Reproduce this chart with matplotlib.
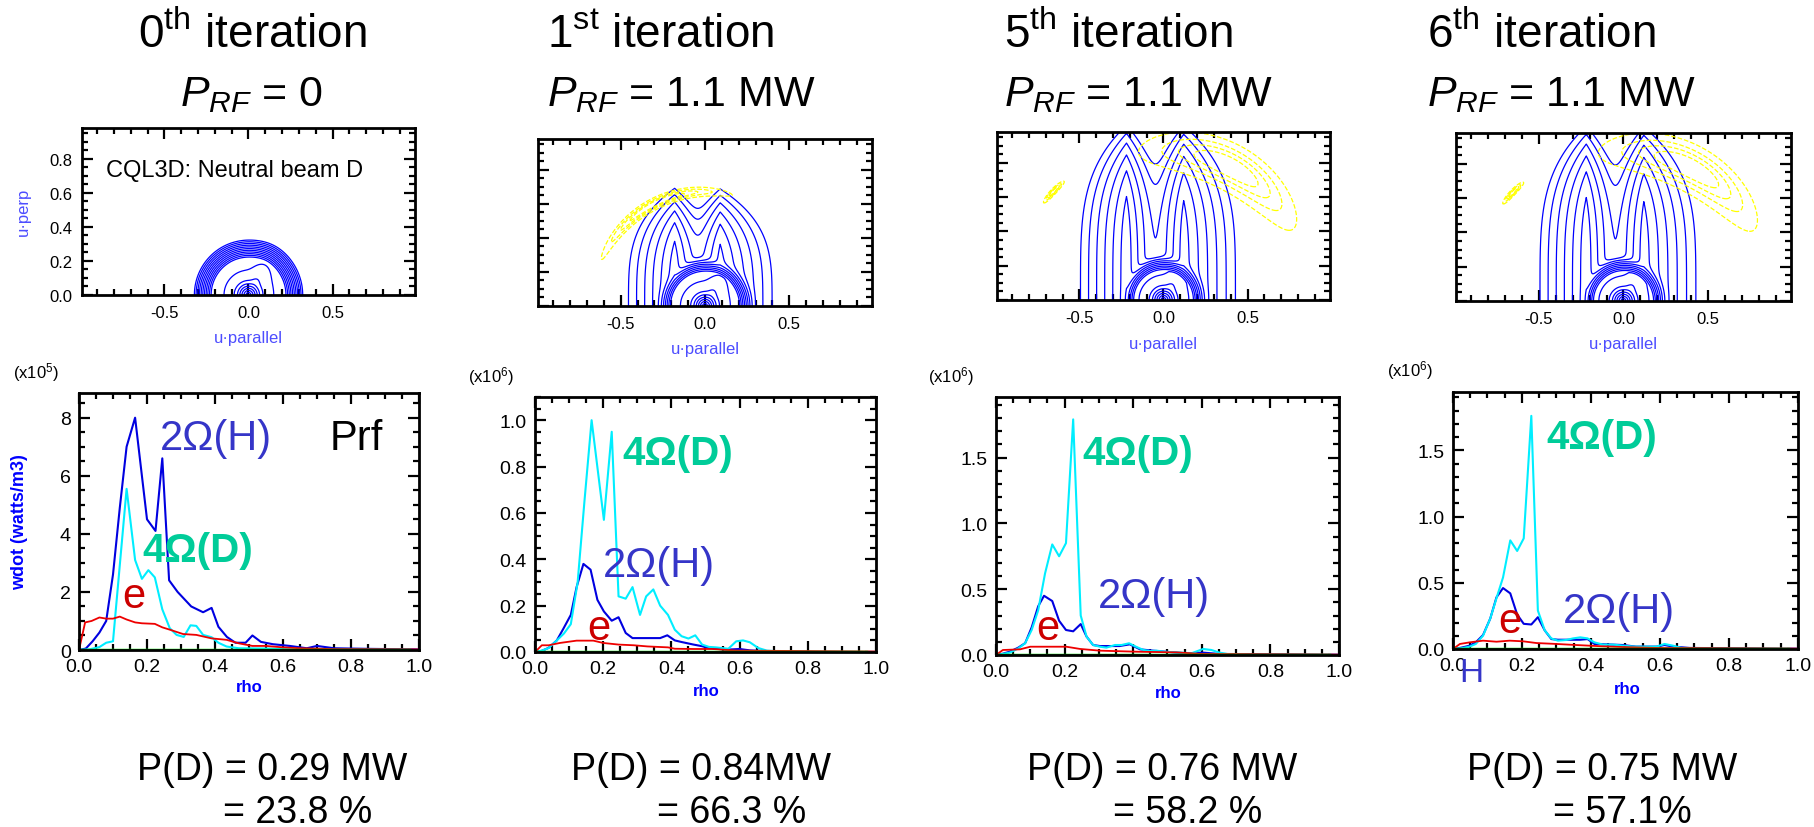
import numpy as np
import matplotlib.pyplot as plt
from matplotlib.ticker import MultipleLocator, FormatStrFormatter

plt.rcParams['font.family'] = ['Liberation Sans', 'DejaVu Sans']
plt.rcParams['mathtext.fontset'] = 'custom'
plt.rcParams['mathtext.rm'] = 'Liberation Sans'
plt.rcParams['mathtext.it'] = 'Liberation Sans:italic'
plt.rcParams['mathtext.bf'] = 'Liberation Sans:bold'

W, H = 1815, 828

# ---- headings / summary text ----
iter_num = ['0', '1', '5', '6']
iter_suffix = ['th', 'st', 'th', 'th']
prf_text = ['= 0', '= 1.1 MW', '= 1.1 MW', '= 1.1 MW']
pd_text = ['P(D) = 0.29 MW', 'P(D) = 0.84MW', 'P(D) = 0.76 MW', 'P(D) = 0.75 MW']
pd_frac = ['= 23.8 %', '= 66.3 %', '= 58.2 %', '= 57.1%']
scale_exp = ['5', '6', '6', '6']

# ---- distribution-function model parameters ----
core_amp = [6.7, 6.7, 6.7, 6.7]
core_w = [0.012, 0.012, 0.012, 0.012]
beam_r = [0.22, 0.20, 0.17, 0.17]
beam_w = [0.011, 0.011, 0.011, 0.011]
beam_aniso = [0.8, 0.8, 0.8, 0.8]
beam_pitch = [0.5, 0.5, 0.5, 0.5]
tail_amp = [-60.0, -5.8, -5.8, -5.8]
tail_top = [0.42, 0.42, 0.66, 0.66]
tail_pow = [3.5, 3.5, 4, 4]
lobe_left = [-0.22, -0.18, -0.22, -0.22]
lobe_right = [0.12, 0.09, 0.12, 0.12]
lobe_ratio = [0.9, 0.9, 0.9, 0.9]
# yellow (dashed) contour region
ring_amp = [0.0, 1.0, 1.0, 1.0]
ring_r = [0.7, 0.67, 0.87, 0.87]
ring_w = [0.05, 0.025, 0.1, 0.1]
ring_th = [90, 116, 64, 64]
ring_dth = [20, 29, 26, 26]
blob_amp = [0.0, 0.0, 1.0, 1.0]

# ---- absorbed power profiles vs rho ----
# 0th iteration (x1e5)
h_rho0 = [0, .02, .04, .06, .08, .10, .12, .14, .165, .20, .225, .245, .265, .29, .33, .365, .39, .41,
          .435, .46, .49, .51, .535, .57, .62, .67, .70, .75, .85, 1.0]
h_val0 = [0, .05, .3, .6, 1.0, 2.6, 4.9, 7.0, 8.0, 4.5, 4.1, 6.6, 2.4, 2.0, 1.5, 1.3, 1.45, .8,
          .45, .25, .25, .5, .28, .2, .14, .06, .14, .06, .04, .02]
d_rho0 = [0, .03, .06, .08, .10, .14, .165, .185, .204, .223, .245, .267, .287, .308, .328, .345, .365,
          .39, .41, .434, .47, .55, .6, .7, 1.0]
d_val0 = [0, .02, .1, .25, .3, 5.55, 3.1, 2.45, 2.75, 2.5, 1.4, .75, .52, .45, .85, .83, .52,
          .44, .25, .12, .06, .05, .03, 0, 0]
e_rho0 = [0, .018, .037, .06, .08, .10, .12, .14, .165, .185, .223, .245, .267, .306, .345, .39, .434,
          .47, .51, .55, .6, .65, .75, 1.0]
e_val0 = [0, .95, 1.0, 1.12, 1.08, 1.08, 1.15, 1.05, .95, .92, .9, .78, .7, .55, .52, .4, .35,
          .23, .14, .14, .09, .06, .03, .02]
# 1st iteration (x1e6)
h_rho1 = [0, .02, .04, .064, .083, .105, .122, .142, .163, .183, .202, .225, .245, .266, .286, .347, .367,
          .388, .41, .43, .465, .49, .51, .56, .6, .63, .7, 1.0]
h_val1 = [0, .005, .018, .05, .1, .16, .28, .38, .355, .225, .175, .135, .15, .082, .06, .06, .06,
          .072, .05, .043, .032, .025, .017, .01, .013, .007, .002, 0]
d_rho1 = [0, .02, .04, .064, .085, .105, .125, .145, .166, .202, .225, .245, .266, .286, .308, .326, .347,
          .367, .39, .41, .43, .45, .47, .49, .51, .53, .567, .59, .61, .63, .655, .68, .75, 1.0]
d_val1 = [0, .006, .017, .05, .08, .12, .3, .65, 1.0, .57, .95, .24, .23, .28, .16, .24, .27,
          .2, .16, .096, .068, .058, .072, .032, .022, .02, .014, .046, .05, .042, .017, .006, 0, 0]
e_rho1 = [0, .02, .04, .073, .122, .171, .2, .245, .29, .33, .39, .41, .465, .52, .59, 1.0]
e_val1 = [0, .029, .029, .039, .049, .049, .039, .032, .029, .024, .02, .014, .013, .013, .006, .002]
# 5th iteration (x1e6)
h_rho5 = [0, .02, .04, .065, .085, .104, .123, .14, .164, .184, .204, .225, .247, .264, .283, .303, .36,
          .39, .42, .458, .516, .555, .604, .652, 1.0]
h_val5 = [0, .01, .025, .056, .09, .21, .37, .45, .41, .26, .19, .18, .235, .14, .076, .068, .068,
          .081, .043, .033, .02, .013, .018, .008, .002]
d_rho5 = [0, .02, .04, .065, .085, .104, .123, .143, .164, .184, .204, .225, .247, .264, .283, .303, .322,
          .347, .366, .388, .408, .43, .45, .468, .49, .526, .57, .604, .628, .652, .68, .75, 1.0]
d_val5 = [0, .008, .018, .05, .09, .19, .34, .62, .84, .75, .85, 1.79, .30, .14, .076, .063, .056,
          .076, .076, .089, .063, .038, .03, .033, .025, .02, .013, .046, .038, .018, .005, 0, 0]
e_rho5 = [0, .02, .07, .1, .205, .245, .303, .41, .526, .6, 1.0]
e_val5 = [0, .038, .043, .063, .063, .046, .033, .025, .02, .008, .003]
# 6th iteration (x1e6)
h_rho6 = [0, .024, .048, .066, .087, .108, .126, .145, .166, .186, .205, .227, .246, .266, .285, .304, .369,
          .39, .41, .464, .493, .53, .59, .613, .638, .686, 1.0]
h_val6 = [0, .01, .025, .05, .105, .23, .39, .46, .42, .26, .19, .185, .24, .14, .075, .07, .07,
          .075, .038, .033, .03, .018, .018, .03, .018, .008, .002]
d_rho6 = [0, .024, .048, .066, .087, .108, .128, .145, .166, .186, .205, .227, .246, .266, .285, .304, .328,
          .348, .369, .39, .41, .435, .464, .493, .527, .56, .59, .613, .638, .662, .686, 1.0]
d_val6 = [0, .005, .018, .038, .1, .23, .4, .54, .82, .74, .835, 1.76, .29, .14, .08, .063, .068,
          .08, .088, .08, .05, .033, .033, .025, .018, .018, .018, .038, .025, .008, 0, 0]
e_rho6 = [0, .02, .048, .087, .126, .164, .203, .242, .3, .357, .435, .512, .59, 1.0]
e_val6 = [0, .038, .05, .063, .055, .063, .058, .045, .038, .03, .02, .013, .008, .003]
g_rho = [0, 0.97]
g_val = [0, 0]

h_series = [(h_rho0, h_val0), (h_rho1, h_val1), (h_rho5, h_val5), (h_rho6, h_val6)]
d_series = [(d_rho0, d_val0), (d_rho1, d_val1), (d_rho5, d_val5), (d_rho6, d_val6)]
e_series = [(e_rho0, e_val0), (e_rho1, e_val1), (e_rho5, e_val5), (e_rho6, e_val6)]

y_top = [8.85, 1.1, 1.96, 1.94]
y_major = [2, 0.2, 0.5, 0.5]
y_minor = [0.5, 0.05, 0.1, 0.1]
y_fmt = ['%d', '%.1f', '%.1f', '%.1f']

# pixel boxes of the panels (x0, y0, x1, y1)
top_boxes = [(82, 129, 415, 296), (538, 140, 872, 307), (997, 133, 1330, 301), (1456, 134, 1791, 302)]
bot_boxes = [(79, 394, 419, 651), (535, 398, 876, 653), (996, 398, 1339, 656), (1453, 393, 1798, 650)]


def px_box(b):
    x0, y0, x1, y1 = b
    return [x0 / W, 1 - y1 / H, (x1 - x0) / W, (y1 - y0) / H]


def ftext(x, y, s, **kw):
    fig.text(x / W, 1 - y / H, s, **kw)


def log_dist(U, V, k):
    r = np.hypot(U, V)
    xi = U / np.maximum(r, 1e-9)
    core = np.exp(core_amp[k] - r / core_w[k])
    slow = (0.08**3 + 0.15**3) / (r**3 + 0.15**3)
    slow = slow * (1 + beam_aniso[k] * np.exp(-((xi - beam_pitch[k]) / 0.3)**2))
    edge = np.exp(-np.maximum(r - beam_r[k], 0) / beam_w[k])
    dl = U - lobe_left[k]
    dr = U - lobe_right[k]
    left = np.exp(-np.where(dl < 0, -dl / 0.048, dl / 0.04))
    right = lobe_ratio[k] * np.exp(-np.where(dr > 0, dr / 0.055, -dr / 0.04))
    tail = np.exp(tail_amp[k]) * (left + right) * np.exp(-(V / tail_top[k])**tail_pow[k])
    return np.log(core + slow * edge + tail)


def yellow(U, V, k):
    r = np.hypot(U, V)
    th = np.degrees(np.arctan2(V, U))
    out = ring_amp[k] * np.exp(-((r - ring_r[k]) / ring_w[k])**2 - ((th - ring_th[k]) / ring_dth[k])**2)
    out += blob_amp[k] * np.exp(-((r - 0.91) / 0.012)**2 - ((th - 136) / 4)**2)
    return out


def idl_style(ax, xmaj, xmin, ymaj, ymin, fs, pad):
    ax.xaxis.set_major_locator(MultipleLocator(xmaj))
    ax.xaxis.set_minor_locator(MultipleLocator(xmin))
    ax.yaxis.set_major_locator(MultipleLocator(ymaj))
    ax.yaxis.set_minor_locator(MultipleLocator(ymin))
    ax.tick_params(which='both', direction='in', top=True, right=True, width=1.6,
                   labelsize=fs, pad=pad, colors='black')
    ax.tick_params(which='major', length=8)
    ax.tick_params(which='minor', length=4)
    for s in ax.spines.values():
        s.set_linewidth(2)


fig = plt.figure(figsize=(W / 100, H / 100), dpi=100)

uu = np.linspace(-1, 1, 601)
vv = np.linspace(0, 1, 301)
U, V = np.meshgrid(uu, vv)
levels = np.arange(-11.5, 6.6, 1.0)

for k in range(4):
    ax = fig.add_axes(px_box(top_boxes[k]))
    ax.contour(U, V, log_dist(U, V, k), levels=levels, colors='#0000ff',
               linewidths=0.9, linestyles='solid')
    if ring_amp[k] > 0:
        ax.contour(U, V, yellow(U, V, k), levels=[0.15, 0.35, 0.55, 0.75],
                   colors='#ffff00', linestyles='dashed', linewidths=0.9)
    ax.set_xlim(-0.99, 0.99)
    ax.set_ylim(0, 0.98)
    idl_style(ax, 0.5, 0.1, 0.2, 0.05, 12, 7)
    ax.xaxis.set_major_formatter(FormatStrFormatter('%.1f'))
    ax.yaxis.set_major_formatter(FormatStrFormatter('%.1f'))
    if k > 0:
        ax.tick_params(labelleft=False)
    cx = (top_boxes[k][0] + top_boxes[k][2]) / 2
    ftext(cx, top_boxes[k][3] + 43, 'u·parallel', color='#4d4dff', fontsize=12, ha='center', va='center')

ftext(106, 177, 'CQL3D: Neutral beam D', fontsize=17, color='black')
ftext(23, 212, 'u·perp', color='#4d4dff', fontsize=12, rotation=90, ha='center', va='center')

for k in range(4):
    ax = fig.add_axes(px_box(bot_boxes[k]))
    ax.plot(*h_series[k], color='#0000e0', lw=1.5)
    ax.plot(*d_series[k], color='#00eeff', lw=1.5)
    ax.plot(*e_series[k], color='#ee0000', lw=1.3)
    ax.plot(g_rho, g_val, color='#00e000', lw=2.5)
    ax.set_xlim(0, 1.0)
    ax.set_ylim(0, y_top[k])
    idl_style(ax, 0.2, 0.05, y_major[k], y_minor[k], 14, 6)
    ax.xaxis.set_major_formatter(FormatStrFormatter('%.1f'))
    ax.yaxis.set_major_formatter(FormatStrFormatter(y_fmt[k]))

# scale factors and axis labels
scale_pos = [(13, 378), (468, 382), (928, 382), (1387, 376)]
for k in range(4):
    x, y = scale_pos[k]
    ftext(x, y, r'(x10$^{%s}$)' % scale_exp[k], fontsize=12, color='black')
rho_pos = [(249, 688), (706, 691), (1168, 694), (1627, 690)]
for x, y in rho_pos:
    ftext(x, y, 'rho', fontsize=12, color='#0000ff', fontweight='bold', ha='center', va='center')
ftext(20, 522, 'wdot (watts/m3)', fontsize=13, color='#0000ff', fontweight='bold',
      rotation=90, ha='center', va='center')

# curve labels
h_lab = [(160, 450), (603, 577), (1098, 608), (1563, 623)]
d_lab = [(142, 562), (622, 465), (1082, 465), (1546, 449)]
e_lab = [(122, 608), (587, 640), (1036, 640), (1498, 633)]
for k in range(4):
    ftext(*h_lab[k], '2Ω(H)', fontsize=30, color='#3535c8')
    ftext(*d_lab[k], '4Ω(D)', fontsize=29, color='#00cc99', fontweight='bold')
    ftext(*e_lab[k], 'e', fontsize=30, color='#cc0000')
ftext(330, 450, 'Prf', fontsize=30, color='black')
ftext(1459, 682, 'H', fontsize=24, color='#3535c8')

# titles
title_x = [252, 547, 1004, 1427]
title_ha = ['center', 'left', 'left', 'left']
for k in range(4):
    ftext(title_x[k], 48, r'%s$^{\mathrm{%s}}$ iteration' % (iter_num[k], iter_suffix[k]),
          fontsize=33, ha=title_ha[k], va='baseline')
    ftext(title_x[k], 106, r'$P_{RF}$ %s' % prf_text[k], fontsize=31, ha=title_ha[k], va='baseline')

# absorbed power summary
pd_x = [137, 571, 1027, 1467]
for k in range(4):
    ftext(pd_x[k], 780, pd_text[k], fontsize=27, va='baseline')
    ftext(pd_x[k] + 86, 823, pd_frac[k], fontsize=27, va='baseline')

fig.savefig('out.png', dpi=100)
